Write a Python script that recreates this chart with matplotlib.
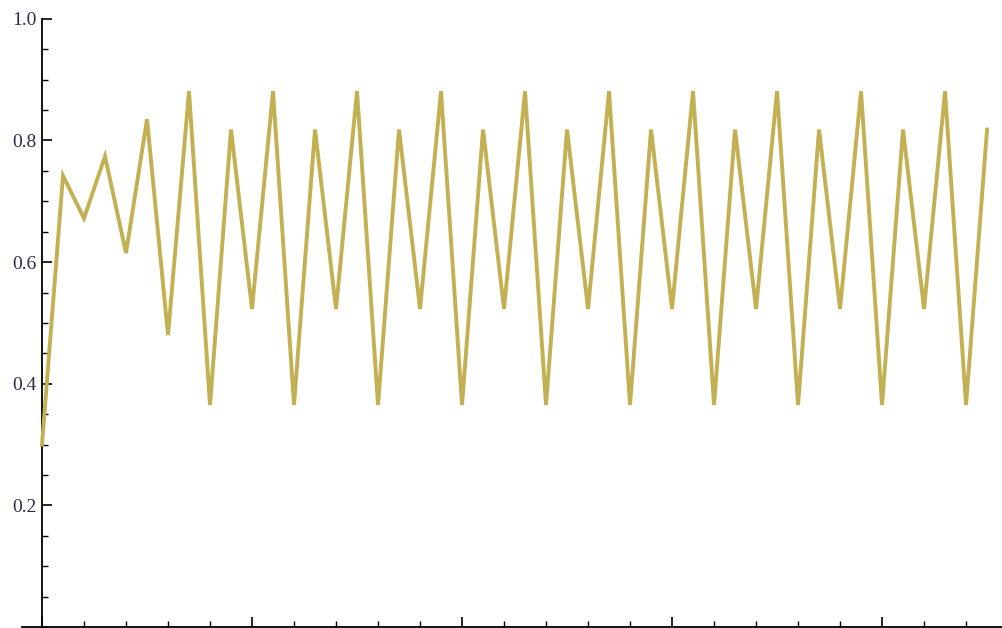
import numpy as np
import matplotlib.pyplot as plt
from matplotlib.ticker import MultipleLocator, FixedLocator

# data (index 0..45)
x_idx = np.arange(46)
start_vals = [0.30, 0.742, 0.672, 0.774, 0.615, 0.835, 0.48]
cycle_vals = [0.881, 0.365, 0.818, 0.523]
y_vals = start_vals + [cycle_vals[i % 4] for i in range(46 - len(start_vals))]

y_ticks = [0.2, 0.4, 0.6, 0.8, 1.0]
y_labels = ["0.2", "0.4", "0.6", "0.8", "1.0"]
x_major = [0, 10, 20, 30, 40]
x_minor = list(range(0, 46, 2))

LINE_COLOR = "#c2b053"

fig = plt.figure(figsize=(10.03, 6.28), dpi=100)
ax = fig.add_axes([0, 0, 1, 1])

ax.plot(x_idx, y_vals, color=LINE_COLOR, lw=2.8, solid_joinstyle="miter",
        clip_on=False, zorder=3)

# axis ranges in data units, matched to pixel positions in the reference
ax.set_xlim(-2.0, 45.76)
ax.set_ylim(-0.0016, 1.031)

for side in ["top", "right"]:
    ax.spines[side].set_visible(False)
ax.spines["left"].set_position(("data", 0))
ax.spines["bottom"].set_position(("data", 0))
ax.spines["left"].set_bounds(0, 1.0)
ax.spines["bottom"].set_bounds(-0.95, 45.76)
ax.spines["left"].set_linewidth(1.3)
ax.spines["bottom"].set_linewidth(1.3)

ax.yaxis.set_major_locator(FixedLocator(y_ticks))
ax.set_yticklabels(y_labels, family="Liberation Serif", fontsize=14,
                   color="#2c2c48")
ax.yaxis.set_minor_locator(MultipleLocator(0.05))

ax.xaxis.set_major_locator(FixedLocator(x_major))
ax.xaxis.set_minor_locator(FixedLocator(x_minor))
ax.set_xticklabels([])

ax.tick_params(axis="y", which="major", direction="in", length=7, width=1.2, pad=4)
ax.tick_params(axis="y", which="minor", direction="in", length=4.5, width=1.0)
ax.tick_params(axis="x", which="major", direction="in", length=7, width=1.2)
ax.tick_params(axis="x", which="minor", direction="in", length=4.0, width=1.0)

ax.patch.set_alpha(0)

fig.savefig("out.png", dpi=100)
